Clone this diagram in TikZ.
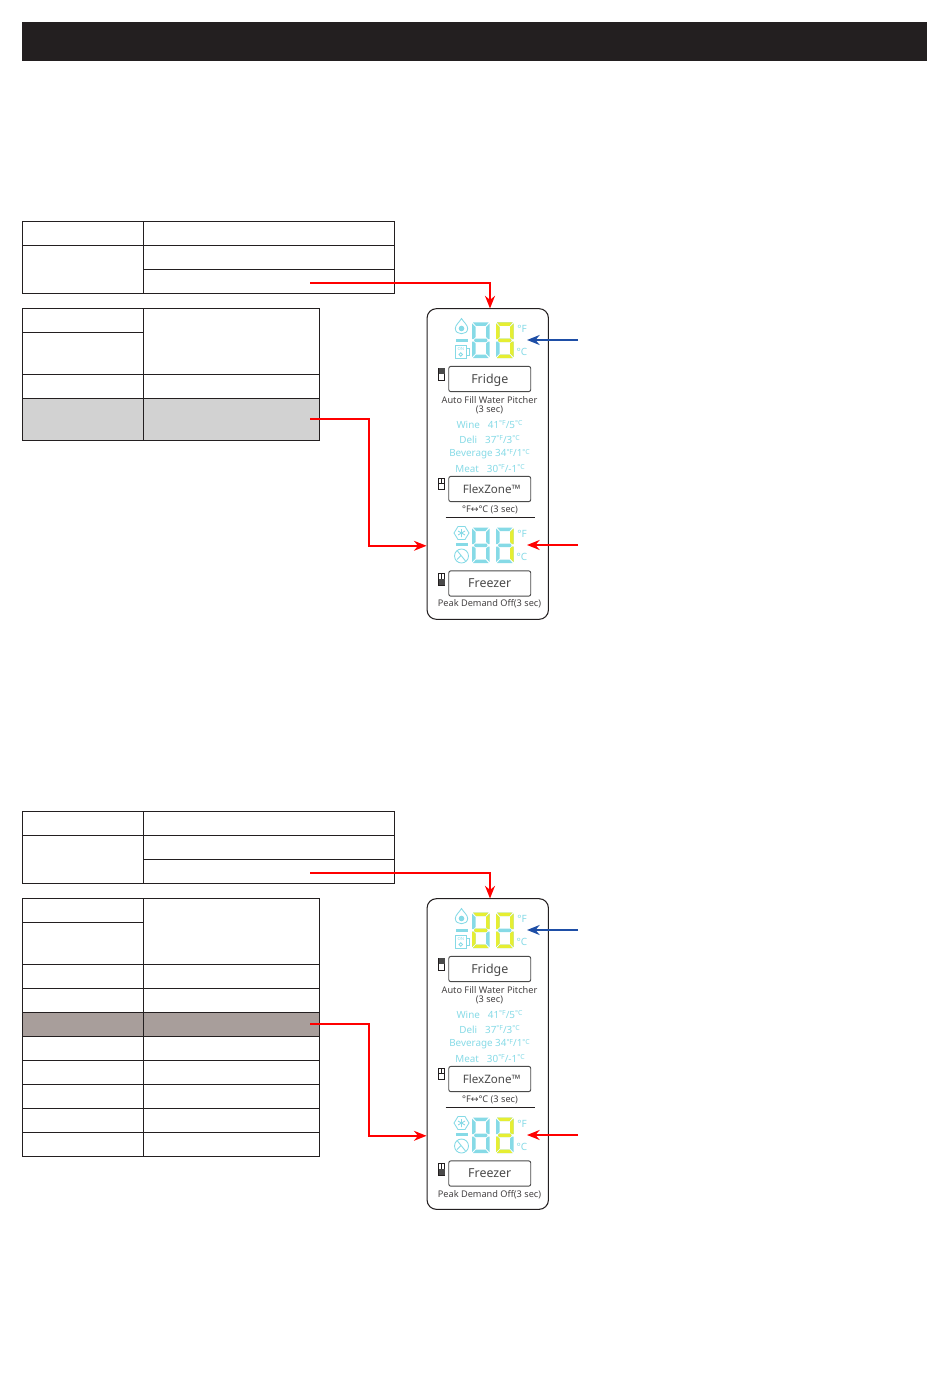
\documentclass[tikz,border=0pt]{standalone}
\usepackage{fontspec}
\setmainfont{Noto Sans}
\newfontfamily\symfont{DejaVu Sans}
\usetikzlibrary{arrows.meta}

\definecolor{barblack}{HTML}{231F20}
\definecolor{rowgray}{HTML}{D2D2D2}
\definecolor{rowbrown}{HTML}{A89E9B}
\definecolor{lcdoff}{HTML}{86DAE6}
\definecolor{lcdon}{HTML}{E6EE32}
\definecolor{flowblue}{HTML}{1E4EA6}
\definecolor{keygray}{HTML}{4A4A4A}

% one piece of a display digit
\newcommand{\sega}{(1,0) -- (16.5,0) -- (13.5,3.5) -- (4,3.5) -- cycle}
\newcommand{\segb}{(17.5,1) -- (14,4.5) -- (14,14.5) -- (16,16.5) -- (17.5,16.5) -- cycle}
\newcommand{\segc}{(17.5,34.5) -- (14,31) -- (14,21) -- (16,19) -- (17.5,19) -- cycle}
\newcommand{\segd}{(1,35.5) -- (16.5,35.5) -- (13.5,32) -- (4,32) -- cycle}
\newcommand{\sege}{(0,34.5) -- (3.5,31) -- (3.5,21) -- (1.5,19) -- (0,19) -- cycle}
\newcommand{\segf}{(0,1) -- (3.5,4.5) -- (3.5,14.5) -- (1.5,16.5) -- (0,16.5) -- cycle}
\newcommand{\segg}{(3,16) -- (14.5,16) -- (15.5,17.75) -- (14.5,19.5) -- (3,19.5) -- (2,17.75) -- cycle}
\newcommand{\segx}{(0,0)}
\newcommand{\sdeg}[1]{\raisebox{.5ex}{\fontsize{5.2}{5}\selectfont °#1}}

\tikzset{
    cell/.style={draw=barblack, line width=0.75pt},
    flow/.style={line width=1.15pt, ->},
    small/.style={inner sep=0pt, text=barblack!85, font=\fontsize{6.9}{7}\selectfont},
    lcdtext/.style={inner sep=0pt, text=lcdoff, font=\fontsize{7.4}{8}\selectfont},
    unit/.style={inner sep=0pt, text=lcdoff, font=\fontsize{7.5}{8}\selectfont},
    keybox/.style={draw=keygray, line width=0.7pt, rounded corners=1.6pt, minimum width=61.5pt, minimum height=19pt, inner sep=0pt, text height=7pt, text depth=1pt, text=keygray, font=\fontsize{9.3}{10}\selectfont},
    panelbox/.style={draw=barblack, line width=0.8pt, rounded corners=7pt, minimum width=91pt, minimum height=233pt, inner sep=0pt},
    icon/.style={draw=lcdoff, line width=0.65pt},
    doorkey/.style={draw=barblack, line width=0.55pt},
    lcddigit/.pic={
        \foreach \s in {a,b,c,d,e,f,g} {\fill[lcdoff] \csname seg\s\endcsname;}
        \edef\seglist{#1}
        \foreach \s in \seglist {\fill[lcdon] \csname seg\s\endcsname;}
    }
}

\begin{document}
\begin{tikzpicture}[x=0.75pt, y=-0.75pt, >={Stealth[length=9.5pt,width=7.5pt]}]

    \useasboundingbox (0,0) rectangle (950,1387);

    % Title bar
    \fill[barblack] (22,22) rectangle (927,61);

    \foreach \yoff/\tag/\litA/\litB/\litD in {0/A/x/{a,b,c,d,f,g}/{b,c}, 590/B/{a,b,g,e,d}/{a,b,c,d,e,f}/{a,b,g,e,d}} {
    \begin{scope}[shift={(0,\yoff)}]

        % Upper table
        \draw[cell] (22.3,221.3) rectangle (394.3,293.3);
        \draw[cell] (143.3,221.3) -- (143.3,293.3);
        \draw[cell] (22.3,245.3) -- (394.3,245.3);
        \draw[cell] (143.3,269.3) -- (394.3,269.3);

        % The panel
        \node[panelbox] (panel\tag) at (487.75,464) {};

        % Upper display
        \pic at (472,322.5) {lcddigit=\litA};
        \pic at (496,322.5) {lcddigit=\litB};
        \draw[icon] (461.5,318.5) .. controls (459.5,322) and (455.3,325) .. (455.3,328.5) .. controls (455.3,335.5) and (467.7,335.5) .. (467.7,328.5) .. controls (467.7,325) and (463.5,322) .. (461.5,318.5) -- cycle;
        \fill[lcdoff] (461.5,328.5) circle (2.8);
        \fill[lcdoff] (455.5,338.5) rectangle (468,342);
        \draw[icon] (455.5,345) rectangle (466,358.5);
        \draw[icon] (466,348.5) -- (469,348.5) -- (469,355.5) -- (466,355.5);
        \draw[icon] (460.8,354.5) circle (1.8);
        \node[inner sep=0pt, text=lcdoff, font=\fontsize{3.2}{3}\selectfont] (mugon\tag) at (460.8,349) {ON};
        \node[unit] (upperf\tag) at (522,329) {°F};
        \node[unit] (upperc\tag) at (522,352) {°C};

        % Fridge key
        \node[keybox] (fridge\tag) at (489.75,379) {Fridge};
        \draw[doorkey] (438.5,368) rectangle (444.5,380);
        \fill[keygray] (438.5,368) rectangle (444.5,374);
        \node[small] (pitcher\tag) at (489.5,399.7) {Auto Fill Water Pitcher};
        \node[small] (pitchertime\tag) at (489.5,409.7) {(3 sec)};

        % Modes
        \node[lcdtext] (wine\tag) at (489.5,424.8) {Wine\hspace{6pt}41\sdeg{F}/5\sdeg{C}};
        \node[lcdtext] (deli\tag) at (489.5,439.3) {Deli\hspace{6pt}37\sdeg{F}/3\sdeg{C}};
        \node[lcdtext] (beverage\tag) at (489.5,454.3) {Beverage 34\sdeg{F}/1\sdeg{C}};
        \node[lcdtext] (meat\tag) at (490,468.3) {Meat\hspace{6pt}30\sdeg{F}/-1\sdeg{C}};

        % FlexZone key
        \node[keybox, font=\fontsize{8.7}{10}\selectfont] (flex\tag) at (489.75,489) {\hspace*{3pt}FlexZone™};
        \draw[doorkey] (438.5,478) rectangle (444.5,489);
        \draw[doorkey] (438.5,483.5) -- (444.5,483.5);
        \draw[doorkey] (441.5,478) -- (441.5,483.5);
        \node[small] (units\tag) at (490,509.7) {°F{\symfont ↔}°C (3 sec)};
        \draw[barblack, line width=0.7pt] (445.5,517.5) -- (534.5,517.5);

        % Lower display
        \pic at (472,527.5) {lcddigit=x};
        \pic at (496,527.5) {lcddigit=\litD};
        \draw[icon] (469,533) -- (465,539.5) -- (458,539.5) -- (454,533) -- (458,526.5) -- (465,526.5) -- cycle;
        \draw[icon] (461.5,529) -- (461.5,537) (458,531) -- (465,535) (458,535) -- (465,531);
        \fill[lcdoff] (455.5,542.5) rectangle (468,546);
        \draw[icon] (461.5,556) circle (7);
        \draw[icon] (457.5,551) -- (465.5,561) (460.5,556) -- (457,559.5);
        \node[unit] (lowerf\tag) at (522,534) {°F};
        \node[unit] (lowerc\tag) at (522,556.5) {°C};

        % Freezer key
        \node[keybox] (freezer\tag) at (489.75,583.5) {Freezer};
        \draw[doorkey] (438.5,573) rectangle (444.5,585);
        \draw[doorkey] (441.5,573) -- (441.5,579);
        \fill[keygray] (438.5,579) rectangle (444.5,585);
        \node[small] (peak\tag) at (489.5,604.2) {Peak Demand Off(3 sec)};

        % Side arrows
        \coordinate (topend\tag) at (527,340);
        \coordinate (topfree\tag) at (578,340);
        \coordinate (lowend\tag) at (527,545);
        \coordinate (lowfree\tag) at (578,545);
        \draw[flow, flowblue] (topfree\tag) -- (topend\tag);
        \draw[flow, red] (lowfree\tag) -- (lowend\tag);

        % Red line to the upper display
        \coordinate (startup\tag) at (310,283);
        \coordinate (endup\tag) at (490,308.5);
        \draw[flow, red] (startup\tag) -| (endup\tag);
    \end{scope}
    }

    % Lower table, first panel
    \fill[rowgray] (22.3,398.3) rectangle (319.3,440.3);
    \draw[cell] (22.3,308.3) rectangle (319.3,440.3);
    \draw[cell] (143.3,308.3) -- (143.3,440.3);
    \draw[cell] (22.3,332.3) -- (143.3,332.3);
    \foreach \y in {374.3,398.3} {
        \draw[cell] (22.3,\y) -- (319.3,\y);
    }

    % Lower table, second panel
    \fill[rowbrown] (22.3,1012.3) rectangle (319.3,1036.3);
    \draw[cell] (22.3,898.3) rectangle (319.3,1156.3);
    \draw[cell] (143.3,898.3) -- (143.3,1156.3);
    \draw[cell] (22.3,922.3) -- (143.3,922.3);
    \foreach \y in {964.3,988.3,1012.3,1036.3,1060.3,1084.3,1108.3,1132.3} {
        \draw[cell] (22.3,\y) -- (319.3,\y);
    }

    % Red lines to the lower display
    \coordinate (startlowA) at (310,419);
    \coordinate (bendlowA) at (369,545.8);
    \coordinate (startlowB) at (310,1024);
    \coordinate (bendlowB) at (369,1135.8);
    \draw[flow, red] (startlowA) -| (bendlowA) -- (panelA.west |- bendlowA);
    \draw[flow, red] (startlowB) -| (bendlowB) -- (panelB.west |- bendlowB);

\end{tikzpicture}
\end{document}
